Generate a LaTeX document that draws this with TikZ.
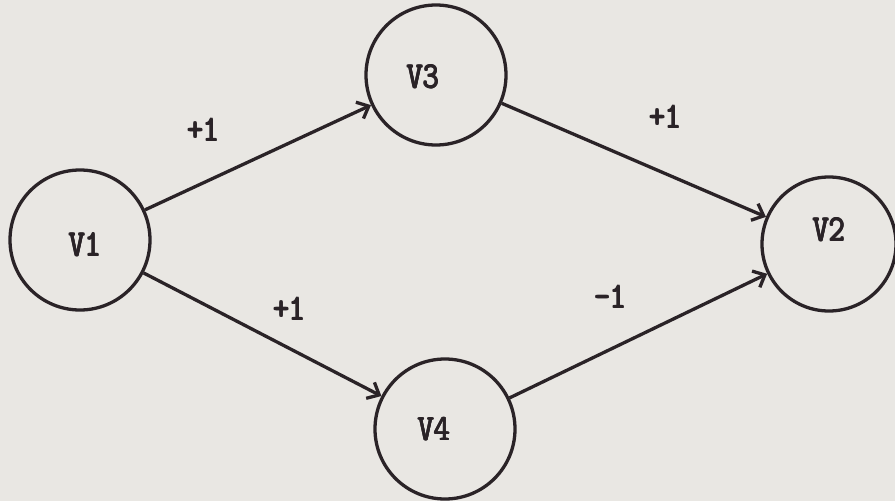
\documentclass[tikz,border=0pt]{standalone}
\usepackage{fontspec}
\newfontfamily\labelfont{Latin Modern Mono}
\usetikzlibrary{arrows.meta}
\definecolor{paper}{HTML}{E9E7E3}
\definecolor{ink}{HTML}{2A2327}
% heavier strokes: overlay slightly shifted copies of the text
\newcommand\heavy[2]{\leavevmode
  \rlap{#2}\rlap{\kern#1#2}\rlap{\raisebox{#1}{#2}}%
  \rlap{\kern#1\raisebox{#1}{#2}}\kern#1#2}
\begin{document}
\begin{tikzpicture}[x=1pt,y=-1pt,
  vertex/.style={circle,draw=ink,line width=3.3pt,minimum size=140pt,inner sep=0pt},
  vlabel/.style={text=ink,xscale=0.85,font=\labelfont\fontsize{37}{40}\selectfont},
  wlabel/.style={text=ink,xscale=0.85,font=\labelfont\fontsize{36}{40}\selectfont},
  edge/.style={draw=ink,line width=3.3pt,-{Straight Barb[length=10pt,width=18pt,line width=3.3pt]}}]
  \fill[paper] (0,0) rectangle (895,501);
  \useasboundingbox (0,0) rectangle (895,501);
  % vertices
  \node[vertex] (v1) at (80,240) {};
  \node[vertex] (v3) at (436,75) {};
  \node[vertex] (v4) at (445,429) {};
  \node[vertex,minimum size=134pt] (v2) at (829,244) {};
  \node[vlabel] (t1) at (85,245) {\heavy{0.8pt}{V1}};
  \node[vlabel] (t3) at (423,77) {\heavy{0.8pt}{V3}};
  \node[vlabel] (t4) at (434,429) {\heavy{0.8pt}{V4}};
  \node[vlabel] (t2) at (829,230) {\heavy{0.8pt}{V2}};
  % edges
  \draw[edge] (v1) -- (v3);
  \draw[edge] (v1) -- (v4);
  \draw[edge] (v3) -- (v2);
  \draw[edge] (v4) -- (v2);
  % weights
  \node[wlabel] (w13) at (203,130) {\heavy{1.4pt}{+1}};
  \node[wlabel] (w32) at (665,117) {\heavy{1.4pt}{+1}};
  \node[wlabel] (w14) at (289,309) {\heavy{1.4pt}{+1}};
  \node[wlabel] (w42) at (610,297) {\heavy{1.4pt}{-1}};
\end{tikzpicture}
\end{document}
